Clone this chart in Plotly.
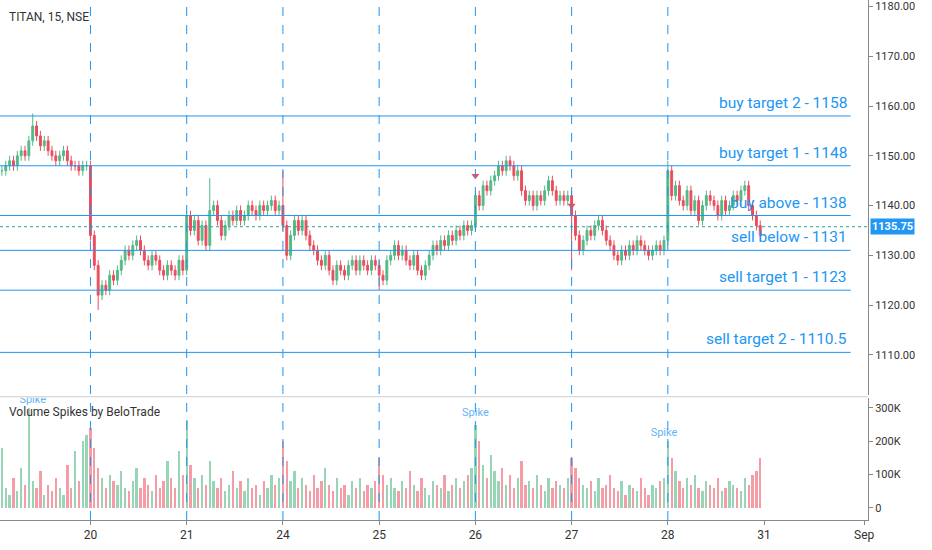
import plotly.graph_objects as go

# 15 minute bars, one list per session
day_names = ["19", "20", "21", "24", "25", "26", "27", "28"]
closes_by_day = [
    [1147, 1148, 1149, 1148, 1150, 1151, 1150, 1153, 1156, 1154, 1152, 1153, 1151, 1150, 1149, 1150, 1151, 1149, 1148, 1148, 1147, 1148, 1148],
    [1134, 1128, 1122, 1124, 1123, 1126, 1125, 1127, 1129, 1131, 1130, 1132, 1133, 1131, 1129, 1128, 1130, 1129, 1127, 1126, 1128, 1127, 1126, 1129, 1127],
    [1138, 1135, 1137, 1133, 1136, 1132, 1139, 1140, 1137, 1134, 1136, 1138, 1137, 1139, 1137, 1138, 1140, 1139, 1138, 1140, 1139, 1140, 1141, 1139, 1140],
    [1136, 1130, 1134, 1137, 1135, 1137, 1134, 1132, 1131, 1129, 1128, 1130, 1127, 1125, 1128, 1127, 1126, 1128, 1129, 1127, 1129, 1128, 1127, 1129, 1128],
    [1126, 1125, 1129, 1130, 1132, 1130, 1131, 1129, 1128, 1130, 1127, 1126, 1128, 1130, 1132, 1131, 1133, 1132, 1134, 1133, 1135, 1134, 1136, 1135, 1136],
    [1142, 1140, 1144, 1143, 1145, 1146, 1148, 1147, 1149, 1148, 1146, 1147, 1143, 1141, 1142, 1140, 1142, 1141, 1143, 1145, 1143, 1141, 1142, 1141, 1142],
    [1138, 1134, 1131, 1133, 1135, 1134, 1136, 1137, 1135, 1133, 1132, 1130, 1129, 1131, 1130, 1132, 1131, 1133, 1132, 1131, 1130, 1131, 1132, 1131, 1133],
    [1147, 1142, 1144, 1141, 1140, 1143, 1139, 1141, 1137, 1140, 1142, 1141, 1140, 1138, 1141, 1139, 1140, 1142, 1141, 1143, 1144, 1140, 1138, 1136, 1134],
]
volumes_by_day = [  # thousands
    [180, 60, 40, 90, 50, 120, 70, 300, 80, 60, 110, 40, 70, 50, 90, 60, 40, 130, 60, 170, 80, 200, 220],
    [240, 180, 120, 90, 60, 100, 80, 70, 110, 60, 50, 80, 120, 60, 90, 70, 50, 100, 60, 80, 140, 90, 60, 170, 100],
    [265, 130, 90, 60, 100, 70, 140, 80, 60, 90, 50, 70, 110, 60, 80, 50, 90, 60, 70, 40, 80, 60, 100, 70, 90],
    [200, 140, 80, 110, 60, 90, 70, 50, 100, 60, 80, 120, 70, 50, 90, 60, 70, 40, 80, 60, 90, 50, 70, 60, 80],
    [150, 100, 70, 90, 60, 50, 80, 60, 110, 70, 50, 90, 60, 40, 80, 70, 60, 100, 50, 70, 90, 60, 80, 100, 120],
    [250, 200, 130, 90, 160, 110, 80, 120, 70, 100, 60, 90, 140, 70, 80, 60, 100, 70, 50, 90, 60, 80, 70, 60, 90],
    [150, 120, 90, 70, 60, 80, 50, 90, 60, 70, 100, 60, 50, 80, 40, 70, 60, 50, 90, 60, 40, 70, 60, 80, 90],
    [200, 150, 110, 80, 60, 90, 70, 100, 60, 50, 80, 70, 60, 90, 50, 60, 80, 70, 60, 50, 90, 70, 100, 110, 150],
]
extra_highs = {8: 1158.5, 73: 1147, 54: 1145.5, 173: 1149, 131: 1150}
extra_lows = {25: 1119, 98: 1123, 148: 1127}

levels = [1158, 1148, 1138, 1131, 1123, 1110.5]
level_labels = ["buy target 2 - 1158", "buy target 1 - 1148", "buy above - 1138",
                "sell below - 1131", "sell target 1 - 1123", "sell target 2 - 1110.5"]
last_price = 1135.75
spike_bars = [8, 123, 172]
spike_vols = [324, 285, 225]
arrow_bars = [123, 148]
arrow_prices = [1146, 1140]
tick_text = ["20", "21", "24", "25", "26", "27", "28", "31", "Sep"]

closes = [c for d in closes_by_day for c in d]
vols = [v * 1000 for d in volumes_by_day for v in d]
opens = [closes[0]] + closes[:-1]
highs = [extra_highs.get(i, max(o, c) + 1) for i, (o, c) in enumerate(zip(opens, closes))]
lows = [extra_lows.get(i, min(o, c) - 1) for i, (o, c) in enumerate(zip(opens, closes))]
x = list(range(len(closes)))

starts = []
n = 0
for d in closes_by_day:
    starts.append(n)
    n += len(d)
tick_vals = starts[1:] + [n, n + 26]

GREEN, RED, BLUE = "#53b987", "#eb4d5c", "#2196f3"
XR = [-0.5, 225]

fig = go.Figure()
fig.add_trace(go.Candlestick(x=x, open=opens, high=highs, low=lows, close=closes,
                             increasing=dict(line=dict(color=GREEN, width=1), fillcolor=GREEN),
                             decreasing=dict(line=dict(color=RED, width=1), fillcolor=RED),
                             whiskerwidth=0, xaxis="x2", yaxis="y2", showlegend=False))
vcol = ["rgba(83,185,135,0.6)" if c >= o else "rgba(235,77,92,0.55)" for o, c in zip(opens, closes)]
fig.add_trace(go.Bar(x=x, y=vols, marker_color=vcol, marker_line_width=0, width=0.6, showlegend=False))
fig.add_trace(go.Scatter(x=arrow_bars, y=arrow_prices, mode="markers", xaxis="x2", yaxis="y2",
                         marker=dict(symbol="triangle-down", size=7, color=RED), showlegend=False))
fig.add_trace(go.Scatter(x=spike_bars, y=[v * 1000 for v in spike_vols], mode="text", text=["Spike"] * 3,
                         textfont=dict(color="#64b5f6", size=11), showlegend=False))

shapes = []
for s in starts[1:]:
    shapes.append(dict(type="line", xref="x", yref="paper", x0=s, x1=s, y0=0, y1=1,
                       line=dict(color=BLUE, width=1, dash="dash")))
for lv in levels:
    shapes.append(dict(type="line", xref="x2", yref="y2", x0=XR[0], x1=220.5, y0=lv, y1=lv,
                       line=dict(color=BLUE, width=1)))
shapes.append(dict(type="line", xref="paper", yref="y2", x0=0, x1=1, y0=last_price, y1=last_price,
                   line=dict(color="#26a69a", width=1, dash="dot")))
shapes.append(dict(type="line", xref="paper", yref="paper", x0=0, x1=1, y0=0.237, y1=0.237,
                   line=dict(color="#cccccc", width=1)))

ann = []
for lv, lab in zip(levels, level_labels):
    ann.append(dict(x=220, y=lv, xref="x2", yref="y2", text=lab, showarrow=False,
                    xanchor="right", yanchor="bottom", yshift=2, font=dict(color=BLUE, size=15.5)))
ann.append(dict(x=1, y=last_price, xref="paper", yref="y2", text="<b>1135.75</b>", showarrow=False,
                xanchor="left", xshift=2, bgcolor=BLUE, font=dict(color="white", size=11)))
ann.append(dict(x=0.008, y=0.985, xref="paper", yref="paper", text="TITAN, 15, NSE", showarrow=False,
                xanchor="left", yanchor="top", font=dict(color="#333", size=12)))
ann.append(dict(x=0.008, y=0.225, xref="paper", yref="paper", text="Volume Spikes by BeloTrade",
                showarrow=False, xanchor="left", yanchor="top", font=dict(color="#333", size=12)))

fig.update_layout(
    width=932, height=550, margin=dict(l=0, r=64, t=0, b=30, autoexpand=False),
    paper_bgcolor="white", plot_bgcolor="white", font=dict(family="Roboto", color="#444"),
    shapes=shapes, annotations=ann, bargap=0,
    xaxis=dict(range=XR, tickvals=tick_vals, ticktext=tick_text, showgrid=False,
               zeroline=False, ticks="outside", ticklen=4, tickcolor="#888", showline=True,
               linecolor="#888", tickfont=dict(size=12, color="#333")),
    xaxis2=dict(range=XR, matches="x", anchor="y2", showticklabels=False, showgrid=False,
                zeroline=False, rangeslider=dict(visible=False)),
    yaxis=dict(domain=[0, 0.235], side="right", range=[-36000, 330000], tickvals=[0, 100000, 200000, 300000],
               ticktext=["0", "100K", "200K", "300K"], showgrid=False, zeroline=False, ticks="outside",
               ticklen=4, tickcolor="#888", showline=True, linecolor="#888", tickfont=dict(size=11, color="#333")),
    yaxis2=dict(domain=[0.24, 1], side="right", range=[1101.9, 1181.3], tickvals=list(range(1110, 1181, 10)),
                tickformat=".2f", showgrid=False, zeroline=False, ticks="outside", ticklen=4,
                tickcolor="#888", showline=True, linecolor="#888", anchor="x2",
                tickfont=dict(size=11, color="#333")),
)
fig.write_html("out.html", config={"displayModeBar": False},
               post_script="document.body.style.margin='0';")
